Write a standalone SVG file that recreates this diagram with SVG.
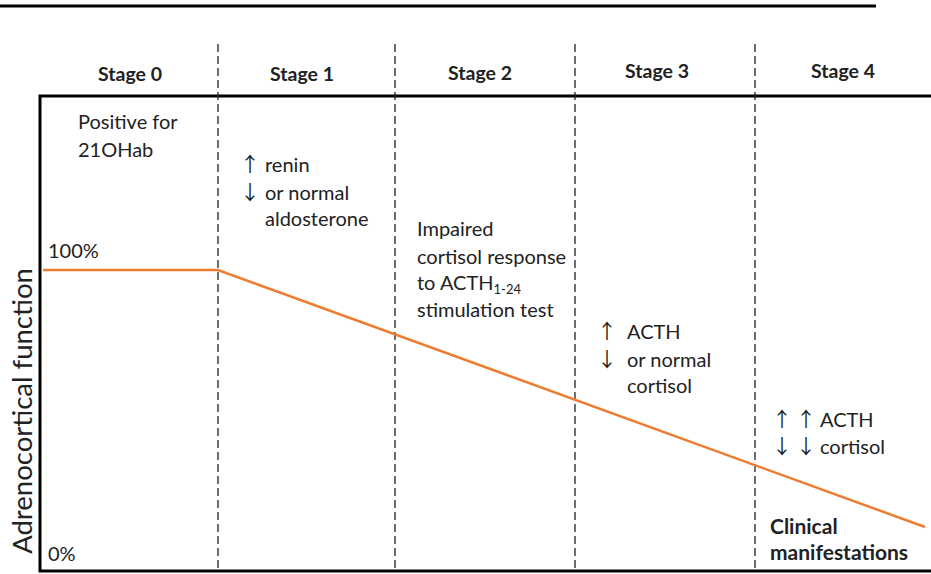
<svg xmlns="http://www.w3.org/2000/svg" width="931" height="574" viewBox="0 0 931 574">
<style>
text{font-family:"Lato","Liberation Sans",sans-serif;fill:#222;}
.t{font-size:20px;}
.b{font-size:19.5px;font-weight:bold;}
.c{font-size:21px;font-weight:bold;}
.a{font-family:"Noto Sans CJK JP","DejaVu Sans",sans-serif;font-size:20px;}
.d{stroke:#222;stroke-width:1.3;stroke-dasharray:8,4;fill:none;}
.k{stroke:#000;stroke-width:3;fill:none;}
</style>
<rect width="931" height="574" fill="#fff"/>
<line class="k" x1="0" y1="6" x2="876" y2="6"/>
<g id="frame">
<polyline class="k" points="931,96 40,96 40,571 931,571"/>
</g>
<g id="connectors">
<line class="d" x1="218" y1="44" x2="218" y2="570"/>
<line class="d" x1="395" y1="44" x2="395" y2="570"/>
<line class="d" x1="575" y1="44" x2="575" y2="570"/>
<line class="d" x1="755" y1="44" x2="755" y2="570"/>
<polyline points="43,270 218,270 925,527" fill="none" stroke="#ED7D31" stroke-width="2.5"/>
</g>
<g id="stages" text-anchor="middle">
<text x="130" y="81" class="b">Stage 0</text>
<text x="302" y="81" class="b">Stage 1</text>
<text x="480" y="80" class="b">Stage 2</text>
<text x="657" y="78" class="b">Stage 3</text>
<text x="843" y="78" class="b">Stage 4</text>
</g>
<g id="stage0">
<text class="t" x="78" y="129">Positive for</text>
<text class="t" x="78" y="157">21OHab</text>
</g>
<g id="stage1">
<text class="t" x="240" y="172"><tspan class="a">↑</tspan><tspan x="265">renin</tspan></text>
<text class="t" x="240" y="200"><tspan class="a">↓</tspan><tspan x="265">or normal</tspan></text>
<text class="t" x="265" y="226">aldosterone</text>
</g>
<g id="stage2">
<text class="t" x="417" y="236">Impaired</text>
<text class="t" x="417" y="264">cortisol response</text>
<text class="t" x="417" y="290">to ACTH<tspan font-size="13" dy="4">1-24</tspan></text>
<text class="t" x="417" y="317">stimulation test</text>
</g>
<g id="stage3">
<text class="t" x="597" y="339"><tspan class="a">↑</tspan><tspan x="627">ACTH</tspan></text>
<text class="t" x="597" y="367"><tspan class="a">↓</tspan><tspan x="627">or normal</tspan></text>
<text class="t" x="627" y="393">cortisol</text>
</g>
<g id="stage4">
<text class="t" x="772" y="427"><tspan class="a">↑</tspan><tspan class="a" x="796">↑</tspan><tspan x="820">ACTH</tspan></text>
<text class="t" x="772" y="454"><tspan class="a">↓</tspan><tspan class="a" x="796">↓</tspan><tspan x="820">cortisol</tspan></text>
<text class="c" x="770" y="534">Clinical</text>
<text class="c" x="770" y="560">manifestations</text>
</g>
<g id="axis">
<text class="t" x="48" y="258">100%</text>
<text class="t" x="48" y="561">0%</text>
<text x="0" y="0" font-size="27.5" text-anchor="middle" transform="translate(32,411) rotate(-90)">Adrenocortical function</text>
</g>
</svg>
